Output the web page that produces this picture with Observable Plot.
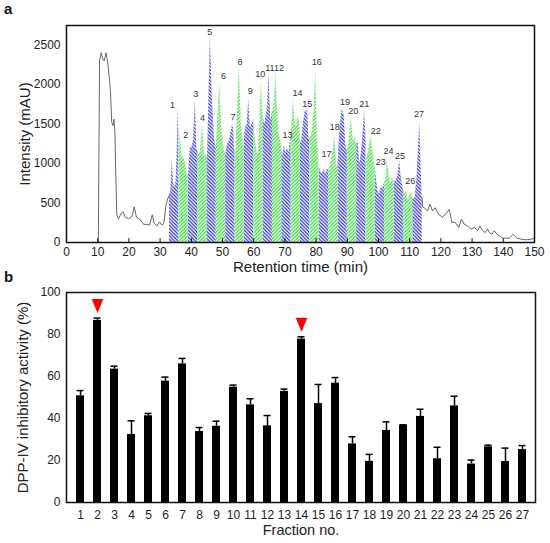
<!DOCTYPE html>
<html>
<head>
<meta charset="utf-8">
<script src="https://cdn.jsdelivr.net/npm/d3@7"></script>
<script src="https://cdn.jsdelivr.net/npm/@observablehq/plot@0.6"></script>
<style>
  html, body { margin: 0; padding: 0; background: #fff; }
  #page { position: relative; width: 550px; height: 543px; overflow: hidden; font-family: 'Liberation Sans', Arial, sans-serif; }
  .panel { position: absolute; left: 4px; font-weight: bold; font-size: 15px; color: #111; }
  #top, #bottom { position: absolute; left: 0; }
  #top { top: 0; }
  #bottom { top: 278px; }
</style>
</head>
<body>
<div id="page">
  <div id="top"></div>
  <div id="bottom"></div>
  <div class="panel" style="top:0px;">a</div>
  <div class="panel" style="top:268px;">b</div>
</div>
<script>
// ---------- Panel a: chromatogram ----------
const retentionTime = [
  9.8, 10.2, 10.6, 11.1, 11.7, 12.1, 12.7, 13.3, 13.8, 14.1, 14.5, 14.9, 15.2, 15.5, 16.1, 16.7, 17.4, 18.1, 18.8, 19.9,
  21.0, 21.7, 22.4, 23.6, 24.7, 25.8, 26.6, 27.5, 28.1, 29.0, 29.8, 30.6, 31.2, 31.9, 32.5, 33.0, 33.4, 33.9, 34.3, 34.7,
  35.1, 35.5, 35.8, 36.2, 36.5, 36.9, 37.5, 38.0, 38.6, 39.1, 39.7, 40.2, 40.7, 41.3, 41.8, 42.4, 42.9, 43.6, 44.2, 44.8,
  45.2, 46.1, 46.7, 47.4, 48.0, 49.1, 49.8, 50.6, 51.1, 51.6, 52.3, 52.8, 53.3, 53.6, 53.9, 54.3, 55.4, 56.1, 56.8, 57.3,
  57.9, 58.4, 58.9, 59.5, 60.0, 60.4, 61.1, 61.6, 62.4, 62.9, 63.3, 63.6, 64.4, 64.9, 65.5, 66.0, 66.5, 67.1, 67.6, 68.1,
  69.0, 69.4, 69.8, 70.3, 70.8, 71.3, 71.8, 72.0, 72.7, 73.3, 73.7, 74.2, 74.7, 75.0, 75.3, 75.9, 76.5, 76.9, 77.3, 77.7,
  78.3, 78.8, 79.4, 79.9, 80.4, 81.0, 81.5, 82.0, 82.6, 83.1, 83.6, 84.0, 84.4, 85.0, 85.6, 86.0, 86.5, 87.0, 87.4, 87.9,
  88.2, 89.0, 89.5, 90.0, 90.6, 91.3, 91.9, 92.4, 92.7, 93.0, 93.5, 94.0, 94.4, 94.9, 95.5, 95.9, 96.2, 96.8, 97.5, 98.1,
  98.7, 99.0, 99.3, 99.8, 100.2, 100.7, 101.5, 101.9, 102.3, 102.8, 103.4, 103.9, 104.5, 105.0, 105.6, 106.2, 106.8, 107.4, 108.0, 108.5,
  109.0, 109.5, 110.0, 110.6, 111.0, 111.7, 112.3, 112.8, 113.2, 113.7, 114.1, 114.6, 115.7, 116.5, 117.3, 118.2, 119.2, 120.5, 121.6, 122.7,
  123.5, 124.6, 125.7, 126.6, 127.5, 128.5, 129.6, 130.7, 131.8, 132.5, 133.4, 134.2, 135.0, 135.5, 136.4, 137.1, 137.9, 138.7, 139.8, 140.8,
  141.9, 143.2, 144.3, 145.7, 147.3, 148.9, 149.9
];
const intensity = [
  0, 0, 2300, 2400, 2310, 2300, 2400, 2250, 2050, 1900, 1520, 1480, 1560, 1400, 350, 300, 360, 390, 320, 300,
  330, 450, 320, 290, 230, 230, 220, 350, 240, 210, 260, 220, 240, 480, 560, 600, 640, 1050, 760, 700,
  760, 1200, 1690, 1150, 1400, 1100, 1080, 1020, 870, 840, 1220, 1200, 1290, 1810, 1180, 1120, 1140, 1500, 1120, 1110,
  1080, 2615, 1880, 1330, 1200, 2035, 1415, 1160, 1120, 1245, 1290, 1415, 1500, 1420, 1160, 1160, 2220, 1460, 1200, 1440,
  1500, 1820, 1460, 1500, 1560, 1370, 1120, 1140, 2045, 1670, 1540, 1500, 1700, 2130, 1540, 1660, 1700, 2150, 1700, 1410,
  1200, 1100, 1230, 1130, 1200, 1130, 1300, 1350, 1815, 1500, 1455, 1590, 1540, 1300, 1250, 1500, 1670, 1650, 1680, 1300,
  1350, 1400, 1700, 2190, 1300, 950, 900, 870, 920, 870, 930, 910, 950, 1050, 1200, 1370, 1000, 950, 1300, 1550,
  1680, 1620, 1250, 1150, 1300, 1590, 1270, 1330, 1290, 1250, 1270, 990, 1100, 1300, 1660, 1400, 1050, 1150, 1350, 1200,
  1000, 950, 820, 650, 610, 680, 700, 750, 800, 1030, 870, 750, 820, 760, 780, 850, 1030, 780, 660, 620,
  640, 530, 600, 640, 560, 560, 800, 1200, 1530, 900, 450, 440, 400, 485, 400, 440, 360, 320, 360, 420,
  255, 255, 190, 295, 230, 210, 170, 190, 150, 210, 150, 125, 170, 125, 105, 150, 105, 85, 55, 55,
  55, 105, 55, 42, 34, 42, 50
];
const fractionEdges = [33, 36, 39, 42, 45, 48, 51, 54, 57, 60, 63, 66, 69, 72, 75, 78, 81, 84, 87, 90, 93, 96, 99, 102, 105, 108, 111, 114];
const peakLabels = ["1","2","3","4","5","6","7","8","9","10","11","12","13","14","15","16","17","18","19","20","21","22","23","24","25","26","27"];
const peakLabelTime = [34.0, 38.2, 41.4, 43.6, 45.9, 50.3, 53.4, 55.6, 58.9, 62.1, 65.2, 68.1, 70.8, 74.0, 77.2, 80.2, 83.3, 86.0, 89.3, 91.9, 95.4, 99.1, 100.7, 103.2, 106.9, 110.2, 113.0];
const peakLabelIntensity = [1744, 1364, 1871, 1575, 2660, 2111, 1592, 2280, 1909, 2130, 2200, 2200, 1360, 1896, 1753, 2280, 1119, 1465, 1774, 1660, 1753, 1415, 1022, 1153, 1098, 781, 1626];
const timeTicks = [0, 10, 20, 30, 40, 50, 60, 70, 80, 90, 100, 110, 120, 130, 140, 150];
const intensityTicks = [0, 500, 1000, 1500, 2000, 2500];

// ---------- Panel b: DPP-IV inhibitory activity ----------
const fractionNo = d3.range(1, 28);
const activity = [50.8, 86.7, 63.5, 32.4, 41.3, 57.8, 66.0, 33.8, 36.3, 54.9, 46.5, 36.5, 52.9, 77.8, 47.1, 56.8, 27.9, 19.6, 34.3, 36.7, 41.0, 20.8, 46.0, 18.3, 26.5, 19.5, 25.2];
const activityErr = [2.5, 1.1, 1.4, 6.5, 1.1, 1.9, 2.6, 1.9, 2.4, 1.0, 2.9, 4.9, 1.1, 1.1, 9.1, 2.7, 3.4, 3.3, 4.1, 0.3, 3.4, 5.5, 4.6, 1.9, 0.8, 6.4, 1.9];
const highlighted = [2, 14];
const activityTicks = [0, 20, 40, 60, 80, 100];

// ---------- build tables ----------
const font = "'Liberation Sans', Arial, sans-serif";
const chrom = retentionTime.map((t, i) => ({t, v: intensity[i]}));
const interp = d3.scaleLinear().domain(retentionTime).range(intensity);
const areaPts = [];
for (let k = 0; k < fractionEdges.length - 1; k++) {
  const a = fractionEdges[k], b = fractionEdges[k + 1], f = k + 1;
  areaPts.push({t: a, v: interp(a), f});
  chrom.filter(d => d.t > a && d.t < b).forEach(d => areaPts.push({t: d.t, v: d.v, f}));
  areaPts.push({t: b, v: interp(b), f});
}
const first = fractionEdges[0], last = fractionEdges[fractionEdges.length - 1];
const earlyLine = chrom.filter(d => d.t < first).concat([{t: first, v: interp(first)}]);
const lateLine = [{t: last, v: interp(last)}].concat(chrom.filter(d => d.t > last));
const labels = peakLabels.map((s, i) => ({s, t: peakLabelTime[i], v: peakLabelIntensity[i]}));
const tickShape = {draw(context, l) { context.moveTo(0, 0); context.lineTo(0, -l); }};

const topPlot = Plot.plot({
  width: 550, height: 278,
  marginTop: 25, marginBottom: 36, marginLeft: 66, marginRight: 16,
  style: {fontFamily: font, fontSize: "12px", color: "#222", background: "transparent"},
  x: {domain: [0, 150]},
  y: {domain: [0, 2745]},
  marks: [
    Plot.areaY(areaPts.filter(d => d.f % 2 === 1), {x: "t", y: "v", z: "f", fill: "url(#hatchBlue)"}),
    Plot.areaY(areaPts.filter(d => d.f % 2 === 0), {x: "t", y: "v", z: "f", fill: "url(#hatchGreen)"}),
    Plot.lineY(earlyLine, {x: "t", y: "v", stroke: "#666", strokeWidth: 1}),
    Plot.lineY(lateLine, {x: "t", y: "v", stroke: "#666", strokeWidth: 1}),
    Plot.text(labels, {x: "t", y: "v", text: "s", fontSize: 9, fill: "#333"}),
    Plot.frame({stroke: "#111", strokeWidth: 1.5}),
    Plot.vector(timeTicks, {x: d => d, frameAnchor: "bottom", length: 4, anchor: "start", shape: tickShape, stroke: "#111", strokeWidth: 1}),
    Plot.axisX({ticks: timeTicks, tickSize: 0, tickPadding: 5, tickFormat: d => String(d), label: null, fill: "#222"}),
    Plot.axisY({ticks: intensityTicks, tickSize: 0, tickPadding: 6, tickFormat: d => String(d), label: null, fill: "#222"}),
    Plot.text(["Retention time (min)"], {text: d => d, frameAnchor: "bottom", textAnchor: "middle", dy: 29, fontSize: 15, fill: "#222"}),
    Plot.text(["Intensity (mAU)"], {text: d => d, frameAnchor: "left", textAnchor: "middle", dx: -41, rotate: -90, fontSize: 15, fill: "#222"})
  ]
});
topPlot.insertAdjacentHTML("afterbegin", `
<defs>
  <pattern id="hatchBlue" patternUnits="userSpaceOnUse" width="3.5" height="3.5">
    <rect width="3.5" height="3.5" fill="white"/>
    <path d="M0,0 L3.5,3.5 M-1.75,1.75 L1.75,5.25 M1.75,-1.75 L5.25,1.75" stroke="#2f2fd0" stroke-width="1.2"/>
  </pattern>
  <pattern id="hatchGreen" patternUnits="userSpaceOnUse" width="3.5" height="3.5">
    <rect width="3.5" height="3.5" fill="white"/>
    <path d="M0,3.5 L3.5,0 M-1.75,1.75 L1.75,-1.75 M1.75,5.25 L5.25,1.75" stroke="#33dc33" stroke-width="1.2"/>
  </pattern>
</defs>`);
document.getElementById("top").appendChild(topPlot);

const rows = fractionNo.map((f, i) => ({f, v: activity[i], top: activity[i] + activityErr[i]}));
const downTriangle = {
  draw(context) {
    context.moveTo(-5.8, -7);
    context.lineTo(5.8, -7);
    context.lineTo(0, 7);
    context.closePath();
  }
};

const bottomPlot = Plot.plot({
  width: 550, height: 265,
  marginTop: 14, marginBottom: 41, marginLeft: 66, marginRight: 15,
  style: {fontFamily: font, fontSize: "12px", color: "#222", background: "transparent"},
  x: {type: "band", domain: fractionNo, paddingInner: 0.54, paddingOuter: 0.27},
  y: {domain: [0, 100]},
  marks: [
    Plot.barY(rows, {x: "f", y: "v", fill: "#000"}),
    Plot.ruleX(rows, {x: "f", y1: "v", y2: "top", stroke: "#000", strokeWidth: 1.5}),
    Plot.tickY(rows, {x: "f", y: "top", stroke: "#000", strokeWidth: 1.5, insetLeft: 0.5, insetRight: 0.5}),
    Plot.dot(rows.filter(d => highlighted.includes(d.f)), {x: "f", y: "top", dy: -12, symbol: downTriangle, fill: "#ff0000", stroke: "none"}),
    Plot.frame({stroke: "#111", strokeWidth: 1.5}),
    Plot.axisX({tickSize: 0, tickPadding: 8, label: null, fill: "#222"}),
    Plot.axisY({ticks: activityTicks, tickSize: 0, tickPadding: 6, label: null, fill: "#222"}),
    Plot.text(["Fraction no."], {text: d => d, frameAnchor: "bottom", textAnchor: "middle", dy: 32, fontSize: 14.5, fill: "#222"}),
    Plot.text(["DPP-IV inhibitory activity (%)"], {text: d => d, frameAnchor: "left", textAnchor: "middle", dx: -43, rotate: -90, fontSize: 15, fill: "#222"})
  ]
});
document.getElementById("bottom").appendChild(bottomPlot);
</script>
</body>
</html>
